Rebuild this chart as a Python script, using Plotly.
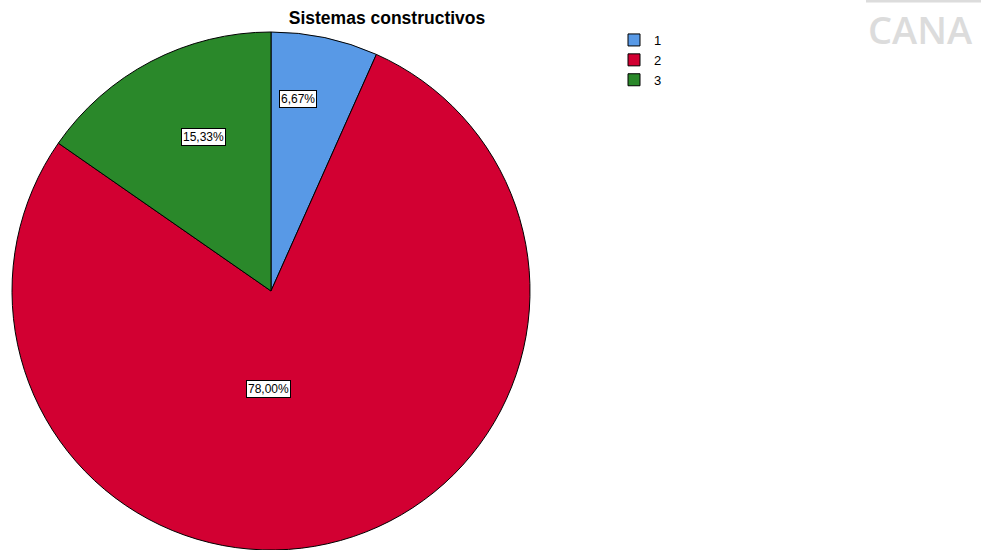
import math
import plotly.graph_objects as go

categories = ["1", "2", "3"]
values = [6.67, 78.00, 15.33]
label_texts = ["6,67%", "78,00%", "15,33%"]
colors = ["#5899E6", "#D20032", "#2A882A"]

W, H = 981, 550
dom_x = [12 / W, 530 / W]
dom_y = [0.0, (H - 32) / H]

fig = go.Figure()
fig.add_trace(go.Pie(
    labels=categories,
    values=values,
    sort=False,
    direction="clockwise",
    rotation=0,
    marker=dict(colors=colors, line=dict(color="#000000", width=1)),
    textinfo="none",
    hoverinfo="label+percent",
    domain=dict(x=dom_x, y=dom_y),
    showlegend=True,
))

# label boxes placed from the slice angles
cx = (dom_x[0] + dom_x[1]) / 2 * W
cy = (1 - (dom_y[0] + dom_y[1]) / 2) * H
R = min((dom_x[1] - dom_x[0]) * W, (dom_y[1] - dom_y[0]) * H) / 2
radial_frac = [0.75, 0.38, 0.65]
angular_frac = [0.33, 0.56, 0.57]
total = sum(values)
start = 0.0
for v, txt, f, af in zip(values, label_texts, radial_frac, angular_frac):
    span = v / total * 360
    ang = start + span * af
    start += span
    th = math.radians(ang)
    px = cx + f * R * math.sin(th)
    py = cy - f * R * math.cos(th)
    fig.add_annotation(
        x=px / W, y=1 - py / H, xref="paper", yref="paper",
        xanchor="center", yanchor="middle",
        text=txt, showarrow=False,
        font=dict(family="Liberation Sans, Arial", size=12, color="#000000"),
        bgcolor="#FFFFFF", bordercolor="#000000", borderwidth=1, borderpad=1,
    )

# background watermark fragments
fig.add_annotation(
    x=866 / W, y=1 - 29 / H, xref="paper", yref="paper",
    xanchor="left", yanchor="middle",
    text="CANA", showarrow=False,
    font=dict(family="Open Sans", size=38, color="#DCDCDC", weight=600),
)
fig.add_shape(type="line", xref="paper", yref="paper",
              x0=866 / W, x1=1, y0=1 - 1 / H, y1=1 - 1 / H,
              line=dict(color="#DCDCDC", width=3))

fig.update_layout(
    width=W, height=H,
    margin=dict(l=0, r=0, t=0, b=0),
    paper_bgcolor="#FFFFFF",
    plot_bgcolor="#FFFFFF",
    title=dict(text="<b>Sistemas constructivos</b>", x=387 / W, xanchor="center",
               y=1 - 18 / H, yanchor="middle",
               font=dict(family="Liberation Sans, Arial", size=17.5, color="#000000")),
    legend=dict(x=614 / W, y=1 - 25 / H, xanchor="left", yanchor="top",
                font=dict(family="Liberation Sans, Arial", size=13, color="#000000"),
                bgcolor="rgba(0,0,0,0)", itemwidth=30, tracegroupgap=0),
)

fig.write_html("out.html")
